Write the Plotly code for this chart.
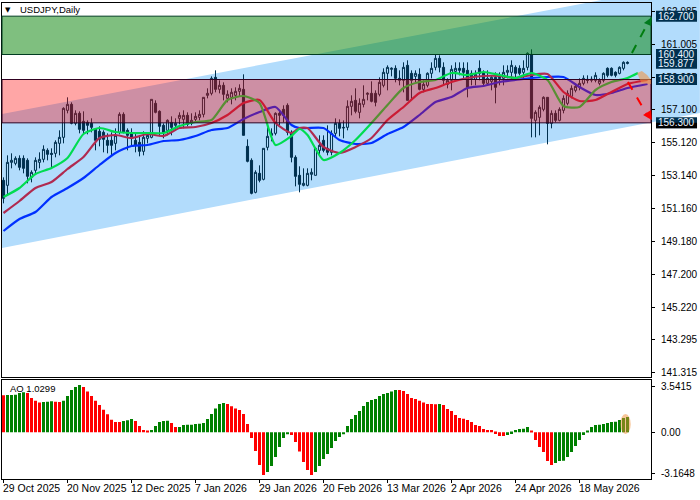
import plotly.graph_objects as go

bar_index = list(range(157))

candle_open = [152.85, 152.55, 153.93, 153.87, 154.17, 154.17, 154.05, 153.03, 153.45, 153.93, 154.11, 154.65, 154.47, 154.47, 155.07, 155.43,
    157.05, 157.41, 156.27, 156.87, 156.39, 156.33, 156.27, 155.91, 155.79, 155.73, 155.25, 155.25, 155.07, 155.73, 156.81, 155.85,
    155.67, 155.25, 155.13, 154.59, 155.37, 155.43, 157.47, 156.99, 156.15, 155.85, 156.33, 156.15, 156.57, 156.51, 156.75, 156.27,
    156.51, 156.63, 156.81, 157.95, 158.07, 159.03, 158.31, 158.55, 157.77, 157.83, 157.95, 158.19, 158.31, 154.89, 154.05, 152.13,
    153.27, 152.91, 154.83, 155.55, 155.67, 156.87, 157.11, 157.35, 155.67, 154.23, 153.15, 152.55, 152.55, 153.21, 153.15, 154.65,
    155.25, 154.77, 154.53, 155.67, 156.27, 156.03, 156.03, 157.29, 157.65, 156.93, 157.41, 158.01, 158.07, 158.07, 158.01, 158.55,
    159.27, 159.51, 159.57, 158.97, 158.85, 159.75, 159.27, 159.09, 159.21, 158.31, 158.55, 159.27, 159.63, 160.17, 159.63, 158.61,
    158.85, 159.39, 159.57, 159.57, 159.45, 159.27, 158.91, 159.57, 159.33, 158.67, 158.79, 159.03, 159.03, 158.97, 159.33, 159.33,
    159.63, 159.57, 159.33, 159.63, 160.41, 156.45, 156.63, 157.11, 157.83, 156.27, 156.87, 156.45, 157.05, 157.47, 157.89, 158.25,
    158.43, 158.67, 158.91, 158.85, 158.85, 158.67, 158.85, 159.57, 159.57, 159.33, 159.27, 159.57, 159.93]
candle_high = [153.03, 154.35, 154.47, 154.29, 154.35, 154.35, 154.17, 153.45, 154.23, 154.53, 154.95, 154.77, 154.77, 155.25, 155.85, 157.23,
    157.83, 157.53, 157.05, 156.99, 156.99, 156.45, 156.57, 155.97, 156.09, 155.85, 155.67, 155.73, 155.97, 156.93, 156.93, 155.97,
    155.97, 155.67, 155.55, 155.79, 155.73, 157.71, 157.65, 157.05, 156.27, 156.51, 156.69, 156.57, 156.93, 157.05, 156.93, 156.87,
    156.93, 157.05, 157.83, 158.37, 159.09, 159.45, 158.85, 158.73, 158.25, 158.37, 158.43, 158.61, 159.21, 155.31, 154.17, 153.45,
    153.75, 154.77, 156.03, 155.97, 156.93, 157.05, 157.35, 157.47, 155.85, 154.35, 153.69, 153.57, 153.57, 153.57, 154.83, 155.55,
    155.55, 156.15, 155.85, 156.57, 156.51, 156.45, 157.65, 157.95, 158.37, 157.77, 158.55, 158.13, 158.79, 158.25, 159.03, 159.57,
    159.75, 159.63, 159.75, 159.45, 159.93, 160.05, 159.45, 159.45, 159.57, 158.85, 159.33, 159.93, 160.41, 160.35, 159.93, 158.97,
    159.75, 159.93, 159.93, 159.93, 159.93, 159.45, 159.45, 160.05, 159.45, 159.45, 159.15, 159.33, 159.33, 159.75, 159.75, 160.05,
    159.75, 159.75, 160.05, 160.53, 160.71, 157.05, 157.35, 157.89, 157.83, 157.05, 157.05, 157.23, 157.95, 158.25, 158.55, 158.67,
    158.97, 159.15, 159.15, 159.09, 159.33, 158.97, 159.33, 159.63, 159.63, 159.39, 159.69, 159.99, 159.99]
candle_low = [151.47, 151.95, 153.57, 153.75, 153.45, 153.27, 152.67, 152.73, 153.27, 153.57, 153.93, 154.05, 153.57, 154.23, 154.35, 155.07,
    156.87, 156.21, 156.15, 155.67, 155.67, 155.61, 155.73, 154.65, 154.89, 154.53, 154.47, 154.35, 154.65, 155.61, 155.67, 154.65,
    154.95, 154.53, 154.29, 154.35, 155.07, 155.37, 156.87, 155.49, 155.37, 155.55, 155.55, 155.85, 156.21, 155.97, 156.09, 156.15,
    156.39, 156.45, 156.63, 157.77, 157.95, 158.13, 158.07, 157.65, 157.53, 157.41, 157.65, 157.89, 155.55, 153.93, 152.01, 152.07,
    152.73, 152.85, 154.65, 155.19, 155.55, 156.15, 156.33, 155.55, 153.93, 152.49, 152.13, 152.49, 152.49, 152.85, 153.15, 154.35,
    154.53, 154.35, 154.35, 155.43, 155.49, 155.37, 155.85, 156.75, 156.87, 156.57, 157.23, 157.65, 157.53, 157.29, 157.89, 158.43,
    158.25, 159.09, 158.73, 158.55, 158.13, 157.65, 157.65, 158.73, 158.25, 158.13, 158.43, 158.97, 159.45, 159.33, 158.55, 158.37,
    158.25, 158.85, 159.15, 158.97, 157.83, 158.55, 158.55, 158.85, 158.55, 158.55, 158.25, 157.47, 158.55, 158.55, 158.97, 158.85,
    159.03, 159.15, 158.97, 159.45, 155.43, 155.43, 155.55, 156.99, 155.01, 155.97, 156.33, 156.39, 156.87, 157.35, 157.77, 158.13,
    158.25, 158.55, 158.67, 158.73, 158.73, 158.55, 158.73, 159.03, 159.09, 159.03, 159.21, 159.45, 159.81]
candle_close = [151.77, 153.93, 154.05, 154.17, 153.63, 153.57, 153.09, 153.33, 154.05, 154.11, 154.71, 154.41, 154.41, 155.13, 155.43, 157.17,
    157.41, 156.27, 156.87, 155.91, 155.85, 156.15, 156.03, 155.25, 155.31, 155.31, 154.95, 154.95, 155.55, 156.81, 155.73, 155.55,
    155.43, 154.95, 154.59, 155.43, 155.55, 157.71, 156.93, 156.09, 155.73, 156.45, 156.03, 156.27, 156.75, 156.75, 156.21, 156.45,
    156.69, 156.81, 157.83, 158.07, 158.97, 158.31, 158.55, 158.01, 158.01, 158.13, 158.19, 158.37, 155.55, 153.99, 152.07, 153.33,
    152.85, 154.77, 155.49, 155.67, 156.87, 156.75, 156.75, 155.73, 154.23, 153.09, 152.61, 152.67, 153.27, 153.33, 154.77, 154.95,
    154.65, 154.53, 155.67, 156.27, 155.97, 156.0, 157.29, 157.59, 156.99, 157.47, 157.71, 158.07, 157.59, 157.53, 158.73, 159.33,
    159.63, 159.57, 158.97, 158.85, 159.63, 157.65, 158.85, 159.27, 158.31, 158.61, 159.27, 159.57, 160.17, 159.63, 158.85, 158.85,
    159.51, 159.57, 159.45, 159.33, 158.43, 158.97, 159.21, 159.27, 158.67, 158.97, 159.03, 158.43, 158.97, 159.33, 159.45, 159.75,
    159.27, 159.27, 159.57, 160.47, 156.57, 156.93, 157.23, 157.83, 156.27, 156.87, 156.45, 157.11, 157.77, 158.07, 158.37, 158.49,
    158.67, 158.97, 158.85, 158.91, 159.15, 158.85, 159.27, 159.15, 159.15, 159.15, 159.63, 159.93, 159.877]

ma_index = [0, 4, 8, 12, 16, 20, 24, 28, 32, 36, 40, 44, 48, 52, 56, 60, 64, 68, 72, 74, 76, 80, 84, 88, 92, 96, 100, 104, 108, 112,
    116, 120, 124, 128, 132, 136, 140, 144, 148, 152, 156]
lips = [151.85, 152.39, 153.23, 153.59, 154.19, 155.63, 155.99, 155.75, 155.69, 155.69, 155.69, 156.11, 156.35, 156.47, 157.67, 157.91, 157.49, 154.97, 155.51, 155.93,
    155.57, 154.07, 154.49, 155.27, 156.29, 157.37, 158.39, 158.75, 158.87, 159.29, 159.17, 159.35, 159.17, 158.99, 159.29, 158.87, 157.31, 157.25, 158.27, 158.75, 158.99, 159.29]
teeth = [150.89, 151.61, 152.39, 152.75, 153.53, 154.25, 155.39, 155.57, 155.39, 155.63, 155.51, 155.99, 156.05, 156.29, 156.77, 157.49, 157.67, 156.29, 155.69, 155.99,
    155.99, 154.85, 154.49, 154.85, 155.39, 156.47, 157.25, 158.09, 158.39, 158.75, 158.99, 159.11, 159.11, 158.99, 159.17, 159.23, 158.15, 157.61, 157.67, 158.15, 158.63, 158.87]
jaw = [149.81, 150.53, 150.95, 151.85, 152.39, 152.99, 153.77, 154.49, 154.91, 154.97, 155.21, 155.27, 155.51, 155.87, 155.99, 156.53, 156.95, 157.25, 156.17, 155.99,
    155.99, 155.99, 155.27, 155.03, 155.09, 155.63, 156.05, 156.77, 157.55, 157.85, 158.39, 158.51, 158.75, 158.87, 158.99, 159.05, 159.05, 158.45, 157.97, 158.09, 158.39, 158.63]
lips_end = 158.6
teeth_end = 161
jaw_end = 161

ao_values = [2.88, 2.89, 2.90, 2.91, 3.06, 3.11, 3.06, 2.67, 2.46, 2.31, 2.36, 2.37, 2.41, 2.37, 2.36, 2.46, 2.82, 3.29, 3.52, 3.68,
    3.52, 3.16, 2.82, 2.46, 2.12, 1.76, 1.40, 0.98, 0.80, 0.79, 0.88, 0.93, 1.04, 0.88, 0.49, 0.18, 0.08, 0.18, 0.49, 0.80,
    0.88, 0.89, 0.73, 0.41, 0.42, 0.57, 0.58, 0.59, 0.65, 0.66, 0.73, 1.04, 1.42, 1.84, 2.20, 2.28, 2.20, 2.02, 1.84, 1.74,
    1.42, 0.65, -0.44, -1.45, -2.54, -3.32, -3.08, -2.62, -1.92, -1.14, -0.44, -0.16, -0.21, -0.75, -1.50, -2.31, -2.93, -3.32, -3.08, -2.62,
    -2.07, -1.68, -1.22, -0.67, -0.36, -0.16, 0.49, 1.04, 1.35, 1.66, 2.05, 2.36, 2.51, 2.59, 2.82, 2.98, 3.06, 3.16, 3.29, 3.28,
    3.21, 2.98, 2.67, 2.59, 2.46, 2.31, 2.20, 2.19, 2.18, 2.20, 2.12, 1.81, 1.66, 1.35, 1.11, 1.06, 0.96, 0.80, 0.57, 0.49,
    0.26, 0.18, 0.17, -0.13, -0.28, -0.29, -0.21, -0.13, 0.18, 0.26, 0.27, 0.41, 0.08, -0.60, -1.14, -1.53, -2.23, -2.54, -2.38, -2.23,
    -2.22, -1.92, -1.53, -1.06, -0.60, -0.21, 0.10, 0.41, 0.57, 0.58, 0.65, 0.73, 0.80, 0.81, 0.96, 1.11, 1.19]

price_ticks = [162.985, 161.005, 159.025, 157.1, 155.12, 153.14, 151.16, 149.18, 147.2, 145.22, 143.295, 141.315]
price_labels = ["162.985", "161.005", "159.025", "157.100", "155.120", "153.140", "151.160", "149.180", "147.200", "145.220", "143.295", "141.315"]
ao_ticks = [3.5415, 0, -3.1648]
ao_labels = ["3.5415", "0.00", "-3.1648"]
date_index = [0, 16, 32, 48, 64, 80, 96, 112, 128, 144]
date_labels = ["29 Oct 2025", "20 Nov 2025", "12 Dec 2025", "7 Jan 2026", "29 Jan 2026", "20 Feb 2026", "13 Mar 2026", "2 Apr 2026", "24 Apr 2026", "18 May 2026"]
level_values = [162.7, 160.4, 159.877, 158.9, 156.3]
level_labels = ["162.700", "160.400", "159.877", "158.900", "156.300"]

channel_x = [-0.375, 174.1]
channel_upper = [156.83, 164.79]
channel_lower = [148.79, 156.89]
buy_arrow_x = [157.1, 161.1]
buy_arrow_y = [160.49, 162.29]
buy_head_x = [162.1, 160.1, 161.9]
buy_head_y = [162.65, 162.29, 162.11]
sell_arrow_x = [156.1, 160.9]
sell_arrow_y = [158.75, 156.77]
sell_head_x = [162.05, 159.9, 161.9]
sell_head_y = [156.47, 156.77, 157.07]
fan_x = [158.4, 159.6, 160.9, 161.875, 161.875, 159.5]
fan_y = [159.29, 159.41, 159.17, 158.87, 158.63, 158.67]

X_RANGE = [-0.375, 161.875]
PRICE_RANGE = [141.05, 163.49]
AO_RANGE = [-3.63, 4.10]
PRICE_DOMAIN = [0.2143, 1]
AO_DOMAIN = [0, 0.209]
CANDLE_COLOR = "#00304f"
BOX_COLOR = "#00304f"
BUY_COLOR = "#007a1e"
SELL_COLOR = "#ff0000"
FONT = "Liberation Sans"


def to_paper_x(i):
    return (i - X_RANGE[0]) / (X_RANGE[1] - X_RANGE[0])


def to_paper_y(price):
    share = (price - PRICE_RANGE[0]) / (PRICE_RANGE[1] - PRICE_RANGE[0])
    return PRICE_DOMAIN[0] + share * (PRICE_DOMAIN[1] - PRICE_DOMAIN[0])


def polygon(xs, ys):
    points = [f"{x:.4f} {y:.4f}" for x, y in zip(xs, ys)]
    return "M " + " L ".join(points) + " Z"


def paper_polygon(xs, ys, color, layer="above"):
    return dict(type="path", xref="paper", yref="paper", layer=layer, line_width=0, fillcolor=color,
                path=polygon([to_paper_x(x) for x in xs], [to_paper_y(y) for y in ys]))


ao_colors = ["#ff0000"]
for prev, cur in zip(ao_values, ao_values[1:]):
    ao_colors.append("#008000" if cur > prev else "#ff0000")

fig = go.Figure()

fig.add_trace(go.Candlestick(
    x=bar_index, open=candle_open, high=candle_high, low=candle_low, close=candle_close,
    increasing=dict(line=dict(color=CANDLE_COLOR, width=1), fillcolor="rgba(0,0,0,0)"),
    decreasing=dict(line=dict(color=CANDLE_COLOR, width=1), fillcolor=CANDLE_COLOR),
    whiskerwidth=0, xaxis="x", yaxis="y",
))
fig.add_trace(go.Scatter(x=ma_index + [jaw_end], y=jaw, mode="lines",
                         line=dict(color="#0030ff", width=2.2, shape="spline", smoothing=0.6), xaxis="x", yaxis="y"))
fig.add_trace(go.Scatter(x=ma_index + [teeth_end], y=teeth, mode="lines",
                         line=dict(color="#b02a50", width=2.2, shape="spline", smoothing=0.6), xaxis="x", yaxis="y"))
fig.add_trace(go.Scatter(x=ma_index + [lips_end], y=lips, mode="lines",
                         line=dict(color="#00dc50", width=2.2, shape="spline", smoothing=0.6), xaxis="x", yaxis="y"))

fig.add_trace(go.Scatter(x=buy_arrow_x, y=buy_arrow_y, mode="lines", line=dict(color=BUY_COLOR, width=2, dash="dash"), xaxis="x", yaxis="y"))
fig.add_trace(go.Scatter(x=sell_arrow_x, y=sell_arrow_y, mode="lines", line=dict(color=SELL_COLOR, width=2, dash="dash"), xaxis="x", yaxis="y"))

fig.add_trace(go.Bar(x=bar_index, y=ao_values, marker=dict(color=ao_colors, line_width=0), width=0.75, xaxis="x2", yaxis="y2"))

shapes = [
    # the price channel also runs through the scale area on the right
    paper_polygon([channel_x[0], channel_x[1], channel_x[1], channel_x[0]],
                  [channel_upper[0], channel_upper[1], channel_lower[1], channel_lower[0]], "#b2dcfc", layer="below"),
    dict(type="rect", xref="paper", yref="y", x0=0, x1=1, y0=level_values[1], y1=level_values[0], layer="above",
         fillcolor="rgba(0,128,0,0.5)", line=dict(color="#003c20", width=1)),
    dict(type="rect", xref="paper", yref="y", x0=0, x1=1, y0=level_values[4], y1=level_values[3], layer="above",
         fillcolor="rgba(255,0,0,0.35)", line=dict(color="#300020", width=1)),
    dict(type="path", xref="x", yref="y", layer="above", line_width=0, fillcolor="rgba(240,150,70,0.6)", path=polygon(fan_x, fan_y)),
    dict(type="circle", xref="x2", yref="y2", layer="above", line_width=0, fillcolor="rgba(240,140,50,0.5)",
         x0=154.2, x1=156.8, y0=-0.13, y1=1.42),
    paper_polygon(buy_head_x, buy_head_y, BUY_COLOR),
    paper_polygon(sell_head_x, sell_head_y, SELL_COLOR),
]
# value boxes sit in the scale area, so they are placed on the page and not on the axes
for value in level_values:
    shapes.append(dict(type="rect", xref="paper", yref="paper", layer="above", line_width=0, fillcolor=BOX_COLOR,
                       x0=1.0077, x1=1.0709, y0=to_paper_y(value - 0.33), y1=to_paper_y(value + 0.33)))
shapes.append(dict(type="rect", xref="paper", yref="paper", layer="above", line_width=0, fillcolor="#000000",
                   x0=1.0077, x1=1.0709, y0=to_paper_y(level_values[4] - 0.33), y1=to_paper_y(level_values[4])))

annotations = [
    dict(text="▼", xref="paper", yref="paper", x=0.0085, y=0.9853, xanchor="center", yanchor="middle", showarrow=False, font=dict(family="DejaVu Sans", size=7, color="black")),
    dict(text="USDJPY,Daily", xref="paper", yref="paper", x=0.0247, y=0.9853, xanchor="left", yanchor="middle", showarrow=False, font=dict(family=FONT, size=9.5, color="black")),
    dict(text="AO 1.0299", xref="paper", yref="paper", x=0.0092, y=0.191, xanchor="left", yanchor="middle", showarrow=False, font=dict(family=FONT, size=9.5, color="black")),
]
for value, label in zip(level_values, level_labels):
    annotations.append(dict(text=label, xref="paper", yref="paper", x=1.0393, y=to_paper_y(value), xanchor="center", yanchor="middle", showarrow=False, font=dict(family=FONT, size=10, color="#eaf4ff")))
for i, label in zip(date_index, date_labels):
    annotations.append(dict(text=label, xref="x2", yref="paper", x=i, y=-0.0189, xanchor="left", yanchor="middle", xshift=-3, showarrow=False, font=dict(family=FONT, size=10.5, color="black")))

frame = dict(showline=True, linecolor="black", linewidth=1, mirror=True, showgrid=False, zeroline=False)

fig.update_layout(
    width=700,
    height=500,
    margin=dict(l=2, r=49, t=3, b=21),
    paper_bgcolor="white",
    plot_bgcolor="white",
    showlegend=False,
    boxgap=0.25,
    shapes=shapes,
    annotations=annotations,
    xaxis=dict(frame, domain=[0, 1], range=X_RANGE, anchor="y", showticklabels=False, ticks="", rangeslider=dict(visible=False)),
    yaxis=dict(frame, domain=PRICE_DOMAIN, range=PRICE_RANGE, anchor="x", side="right", tickvals=price_ticks, ticktext=price_labels,
               ticks="outside", ticklen=3, tickcolor="black", ticklabelstandoff=4, tickfont=dict(family=FONT, size=10, color="black")),
    xaxis2=dict(frame, domain=[0, 1], range=X_RANGE, anchor="y2", tickvals=date_index, ticktext=[""] * len(date_index),
                ticks="outside", ticklen=3, tickcolor="black"),
    yaxis2=dict(frame, domain=AO_DOMAIN, range=AO_RANGE, anchor="x2", side="right", tickvals=ao_ticks, ticktext=ao_labels,
                ticks="outside", ticklen=3, tickcolor="black", ticklabelstandoff=4, tickfont=dict(family=FONT, size=10, color="black")),
)

# the page's default body margin would push the 700x500 figure off the window
fig.write_html("out.html", config={"displayModeBar": False}, post_script="document.body.style.margin = '0';")
